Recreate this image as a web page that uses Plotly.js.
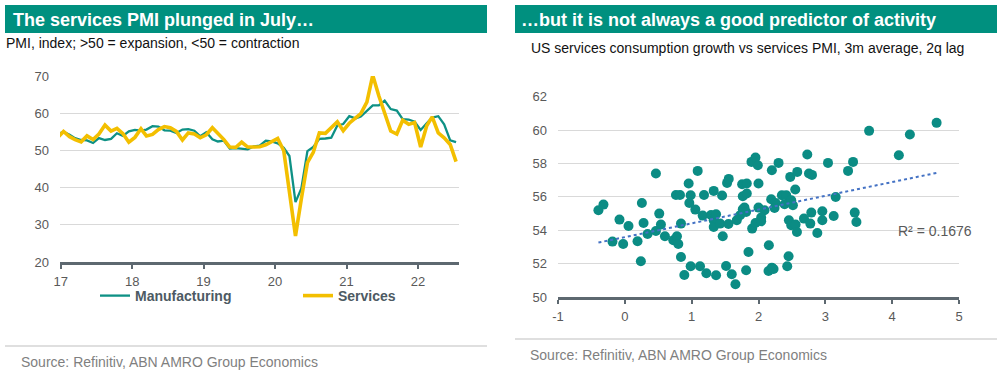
<!DOCTYPE html>
<html>
<head>
<meta charset="utf-8">
<script src="https://cdn.plot.ly/plotly-3.0.1.min.js"></script>
<style>
  html, body { margin: 0; padding: 0; background: #ffffff; }
  #chart { width: 1002px; height: 376px; }
</style>
</head>
<body>
<div id="chart"></div>
<script>
// ---------- Left chart data: US PMI, monthly (Dec 2016 - Jul 2022) ----------
const months = [];
for (let y = 2016; y <= 2022; y++) {
  for (let m = 1; m <= 12; m++) {
    if (y === 2016 && m < 12) continue;
    if (y === 2022 && m > 7) continue;
    months.push(y + '-' + String(m).padStart(2, '0') + '-15');
  }
}
const manufacturing = [
  54.3,
  55.0, 54.2, 53.3, 52.8, 52.7, 52.0, 53.3, 52.8, 53.1, 54.6, 53.9, 55.1,
  55.5, 55.3, 55.6, 56.5, 56.4, 55.4, 55.3, 54.7, 55.6, 55.7, 55.3, 53.8,
  54.9, 53.0, 52.4, 52.6, 50.5, 50.6, 50.4, 50.3, 51.1, 51.3, 52.6, 52.4,
  51.9, 50.7, 48.5, 36.1, 39.8, 49.8, 50.9, 53.1, 53.2, 53.4, 56.7, 57.1,
  59.2, 58.6, 59.1, 60.5, 62.1, 62.1, 63.4, 61.1, 60.7, 58.4, 58.3, 57.7,
  55.5, 57.3, 58.8, 59.2, 57.0, 52.7, 52.2
];
const services = [
  53.4,
  55.1, 53.7, 52.9, 52.3, 53.9, 52.9, 54.4, 56.8, 55.2, 55.9, 54.5, 52.2,
  53.5, 55.8, 53.9, 54.3, 55.6, 56.4, 56.1, 55.1, 52.8, 54.7, 54.4, 53.4,
  54.2, 56.1, 54.7, 52.9, 50.9, 50.8, 52.2, 50.9, 50.9, 51.0, 51.5, 52.3,
  53.2, 49.9, 39.0, 27.0, 37.0, 46.7, 49.5, 54.7, 54.6, 56.0, 57.7, 55.3,
  57.3, 58.7, 59.9, 63.0, 70.2, 64.7, 59.8, 55.2, 54.4, 58.1, 57.0, 57.5,
  50.9, 56.6, 59.0, 54.7, 53.4, 51.6, 47.0
];
const yearTickVals = ['2017-01-01','2018-01-01','2019-01-01','2020-01-01','2021-01-01','2022-01-01'];
const yearTickText = ['17','18','19','20','21','22'];

// ---------- Right chart data: services consumption growth (x) vs services PMI (y) ----------
const consGrowth = [
  -0.395, -0.32, -0.185, -0.08, -0.025, 0.055, 0.19, 0.24, 0.255, 0.28,
  0.34, 0.465, 0.465, 0.515, 0.54, 0.60, 0.725, 0.765, 0.78, 0.80,
  0.825, 0.84, 0.84, 0.89, 0.955, 0.965, 0.985, 0.985, 1.055, 1.09,
  1.125, 1.165, 1.185, 1.22, 1.29, 1.33, 1.33, 1.33, 1.365, 1.365,
  1.425, 1.455, 1.465, 1.515, 1.53, 1.555, 1.55, 1.60, 1.655, 1.675,
  1.725, 1.755, 1.765, 1.765, 1.79, 1.815, 1.825, 1.825, 1.815, 1.85,
  1.895, 1.905, 1.955, 1.955, 1.99, 2.00, 2.00,
  2.09, 2.04, 2.04, 2.155, 2.15, 2.20, 2.225, 2.20, 2.30, 2.19,
  2.255, 2.24, 2.35, 2.415, 2.39, 2.49, 2.515, 2.475, 2.55, 2.58,
  2.73, 2.755, 2.80, 2.455, 2.49, 2.555, 2.575, 2.68, 2.775, 2.79,
  2.955, 2.955, 2.88, 3.125, 3.155, 3.04, 3.34, 3.415, 3.44, 3.465,
  3.655, 4.10, 4.265, 4.665, 2.45, 2.43
];
const pmiLag = [
  55.2, 55.54, 53.32, 54.64, 53.18, 54.26, 53.34, 52.14, 55.64, 54.44,
  53.78, 57.4, 53.96, 55.0, 54.34, 53.64, 53.4, 56.12, 53.64, 53.18,
  56.12, 54.4, 52.4, 51.32, 56.8, 55.64, 56.1, 51.84, 55.24, 57.56,
  51.84, 54.88, 56.12, 51.42, 54.92, 56.36, 54.6, 54.2, 54.96, 51.3,
  54.4, 56.08, 53.64, 51.86, 56.84, 57.08, 54.38, 51.36, 50.76, 54.6,
  54.9, 56.76, 56.04, 55.26, 55.36, 55.1, 56.8, 56.2, 51.6, 52.7,
  58.1, 54.1, 58.36, 54.44, 57.9, 56.8, 55.36,
  55.2, 54.76, 54.54, 53.1, 51.56, 51.76, 51.68, 57.6, 58.04, 55.86,
  55.64, 55.34, 56.1, 56.1, 55.56, 55.8, 55.5, 57.2, 56.44, 57.5,
  58.54, 57.4, 57.32, 54.6, 54.3, 54.34, 53.9, 54.7, 54.4, 55.06,
  55.14, 54.6, 53.84, 54.86, 56.0, 58.04, 57.56, 58.1, 55.06, 54.5,
  59.96, 58.5, 59.74, 60.44, 52.44, 51.84
];
const growthTickVals = [-1, 0, 1, 2, 3, 4, 5];
const growthTickText = ['-1', '0', '1', '2', '3', '4', '5'];
const r2Label = 'R² = 0.1676';

// ---------- Linear trend computed from the scatter data ----------
function linFit(xs, ys) {
  const n = xs.length;
  let sx = 0, sy = 0, sxx = 0, sxy = 0;
  for (let i = 0; i < n; i++) { sx += xs[i]; sy += ys[i]; sxx += xs[i]*xs[i]; sxy += xs[i]*ys[i]; }
  const b = (n*sxy - sx*sy) / (n*sxx - sx*sx);
  const a = (sy - b*sx) / n;
  return {a, b};
}
const fit = linFit(consGrowth, pmiLag);
const xMin = Math.min(...consGrowth), xMax = Math.max(...consGrowth);
const trendX = [xMin, xMax];
const trendY = trendX.map(x => fit.a + fit.b * x);

// ---------- Styling ----------
const FONT = 'Arial, "Liberation Sans", sans-serif';
const TEAL_HDR = '#00907F';
const TEAL = '#0E9185';
const GOLD = '#F3BF00';
const DOT = '#0B8C84';
const AXIS = '#5D6870';
const TICK = '#595959';
const GRID = '#D9D9D9';
const W = 1002, H = 376;
const px = v => v / W;
const py = v => 1 - v / H;

const traces = [
  { type: 'scatter', mode: 'lines', x: months, y: manufacturing, name: 'Manufacturing',
    line: { color: TEAL, width: 2.3 }, xaxis: 'x', yaxis: 'y', legend: 'legend', hoverinfo: 'skip' },
  { type: 'scatter', mode: 'lines', x: months, y: services, name: 'Services',
    line: { color: GOLD, width: 3.6 }, xaxis: 'x', yaxis: 'y', legend: 'legend2', hoverinfo: 'skip' },
  { type: 'scatter', mode: 'markers', x: consGrowth, y: pmiLag, showlegend: false,
    marker: { color: DOT, size: 10, line: { width: 0 } }, xaxis: 'x2', yaxis: 'y2', hoverinfo: 'skip' },
  { type: 'scatter', mode: 'lines', x: trendX, y: trendY, showlegend: false,
    line: { color: '#4472C4', width: 2, dash: 'dot' }, xaxis: 'x2', yaxis: 'y2', hoverinfo: 'skip' }
];

const commonTickFont = { family: FONT, size: 13, color: TICK };

const layout = {
  width: W, height: H,
  margin: { l: 0, r: 0, t: 0, b: 0 },
  paper_bgcolor: '#ffffff', plot_bgcolor: 'rgba(0,0,0,0)',
  font: { family: FONT },
  xaxis: {
    domain: [px(60), px(459)], type: 'date',
    range: ['2016-12-28', '2022-07-30'],
    tickmode: 'array', tickvals: yearTickVals, ticktext: yearTickText,
    showgrid: false, zeroline: false, showline: true, linecolor: AXIS, linewidth: 2.5,
    ticks: 'outside', ticklen: 4, tickwidth: 2, tickcolor: AXIS, ticklabelstandoff: 2,
    tickfont: commonTickFont, anchor: 'y', fixedrange: true
  },
  yaxis: {
    domain: [py(262), py(76)], range: [20, 70], tick0: 20, dtick: 10,
    showgrid: true, gridcolor: GRID, gridwidth: 1, zeroline: false, showline: false,
    ticks: '', ticklabelstandoff: 10, tickfont: commonTickFont, anchor: 'x', fixedrange: true
  },
  xaxis2: {
    domain: [px(558), px(959)], range: [-1, 5],
    tickmode: 'array', tickvals: growthTickVals, ticktext: growthTickText,
    showgrid: false, zeroline: false, showline: true, linecolor: AXIS, linewidth: 2.5,
    ticks: 'outside', ticklen: 4, tickwidth: 2, tickcolor: AXIS, ticklabelstandoff: 2,
    tickfont: commonTickFont, anchor: 'y2', fixedrange: true
  },
  yaxis2: {
    domain: [py(297), py(96.5)], range: [50, 62.02], tick0: 50, dtick: 2,
    showgrid: true, gridcolor: GRID, gridwidth: 1, zeroline: false, showline: false,
    ticks: '', ticklabelstandoff: 10, tickfont: commonTickFont, anchor: 'x2', fixedrange: true
  },
  legend: {
    orientation: 'h', x: px(95), y: py(296), xanchor: 'left', yanchor: 'middle',
    font: { family: FONT, size: 14, color: '#4D5A63', weight: 'bold' },
    bgcolor: 'rgba(0,0,0,0)', borderwidth: 0, itemwidth: 30
  },
  legend2: {
    orientation: 'h', x: px(298), y: py(296), xanchor: 'left', yanchor: 'middle',
    font: { family: FONT, size: 14, color: '#4D5A63', weight: 'bold' },
    bgcolor: 'rgba(0,0,0,0)', borderwidth: 0, itemwidth: 30
  },
  shapes: [
    { type: 'rect', xref: 'paper', yref: 'paper', x0: px(5), x1: px(487), y0: py(33), y1: py(5),
      fillcolor: TEAL_HDR, line: { width: 0 }, layer: 'below' },
    { type: 'rect', xref: 'paper', yref: 'paper', x0: px(515), x1: px(997), y0: py(33), y1: py(5),
      fillcolor: TEAL_HDR, line: { width: 0 }, layer: 'below' },
    { type: 'line', xref: 'paper', yref: 'paper', x0: px(5), x1: px(487), y0: py(346), y1: py(346),
      line: { color: '#BFBFBF', width: 1 } },
    { type: 'line', xref: 'paper', yref: 'paper', x0: px(515), x1: px(997), y0: py(339), y1: py(339),
      line: { color: '#BFBFBF', width: 1 } }
  ],
  annotations: [
    { text: 'The services PMI plunged in July…', xref: 'paper', yref: 'paper', x: px(11), y: py(19.5),
      xanchor: 'left', yanchor: 'middle', showarrow: false,
      font: { family: FONT, size: 18, color: '#ffffff', weight: 'bold' } },
    { text: '…but it is not always a good predictor of activity', xref: 'paper', yref: 'paper', x: px(519), y: py(19.5),
      xanchor: 'left', yanchor: 'middle', showarrow: false,
      font: { family: FONT, size: 18, color: '#ffffff', weight: 'bold' } },
    { text: 'PMI, index; >50 = expansion, <50 = contraction', xref: 'paper', yref: 'paper', x: px(4), y: py(43),
      xanchor: 'left', yanchor: 'middle', showarrow: false,
      font: { family: FONT, size: 14, color: '#111111' } },
    { text: 'US services consumption growth vs services PMI, 3m average, 2q lag', xref: 'paper', yref: 'paper', x: px(529), y: py(48),
      xanchor: 'left', yanchor: 'middle', showarrow: false,
      font: { family: FONT, size: 14, color: '#111111' } },
    { text: r2Label, xref: 'paper', yref: 'paper', x: px(896), y: py(231),
      xanchor: 'left', yanchor: 'middle', showarrow: false,
      font: { family: FONT, size: 14, color: TICK } },
    { text: 'Source: Refinitiv, ABN AMRO Group Economics', xref: 'paper', yref: 'paper', x: px(19), y: py(362),
      xanchor: 'left', yanchor: 'middle', showarrow: false,
      font: { family: FONT, size: 14, color: '#7F7F7F' } },
    { text: 'Source: Refinitiv, ABN AMRO Group Economics', xref: 'paper', yref: 'paper', x: px(528), y: py(355),
      xanchor: 'left', yanchor: 'middle', showarrow: false,
      font: { family: FONT, size: 14, color: '#7F7F7F' } }
  ]
};

Plotly.newPlot('chart', traces, layout, { staticPlot: true, displayModeBar: false });
</script>
</body>
</html>
